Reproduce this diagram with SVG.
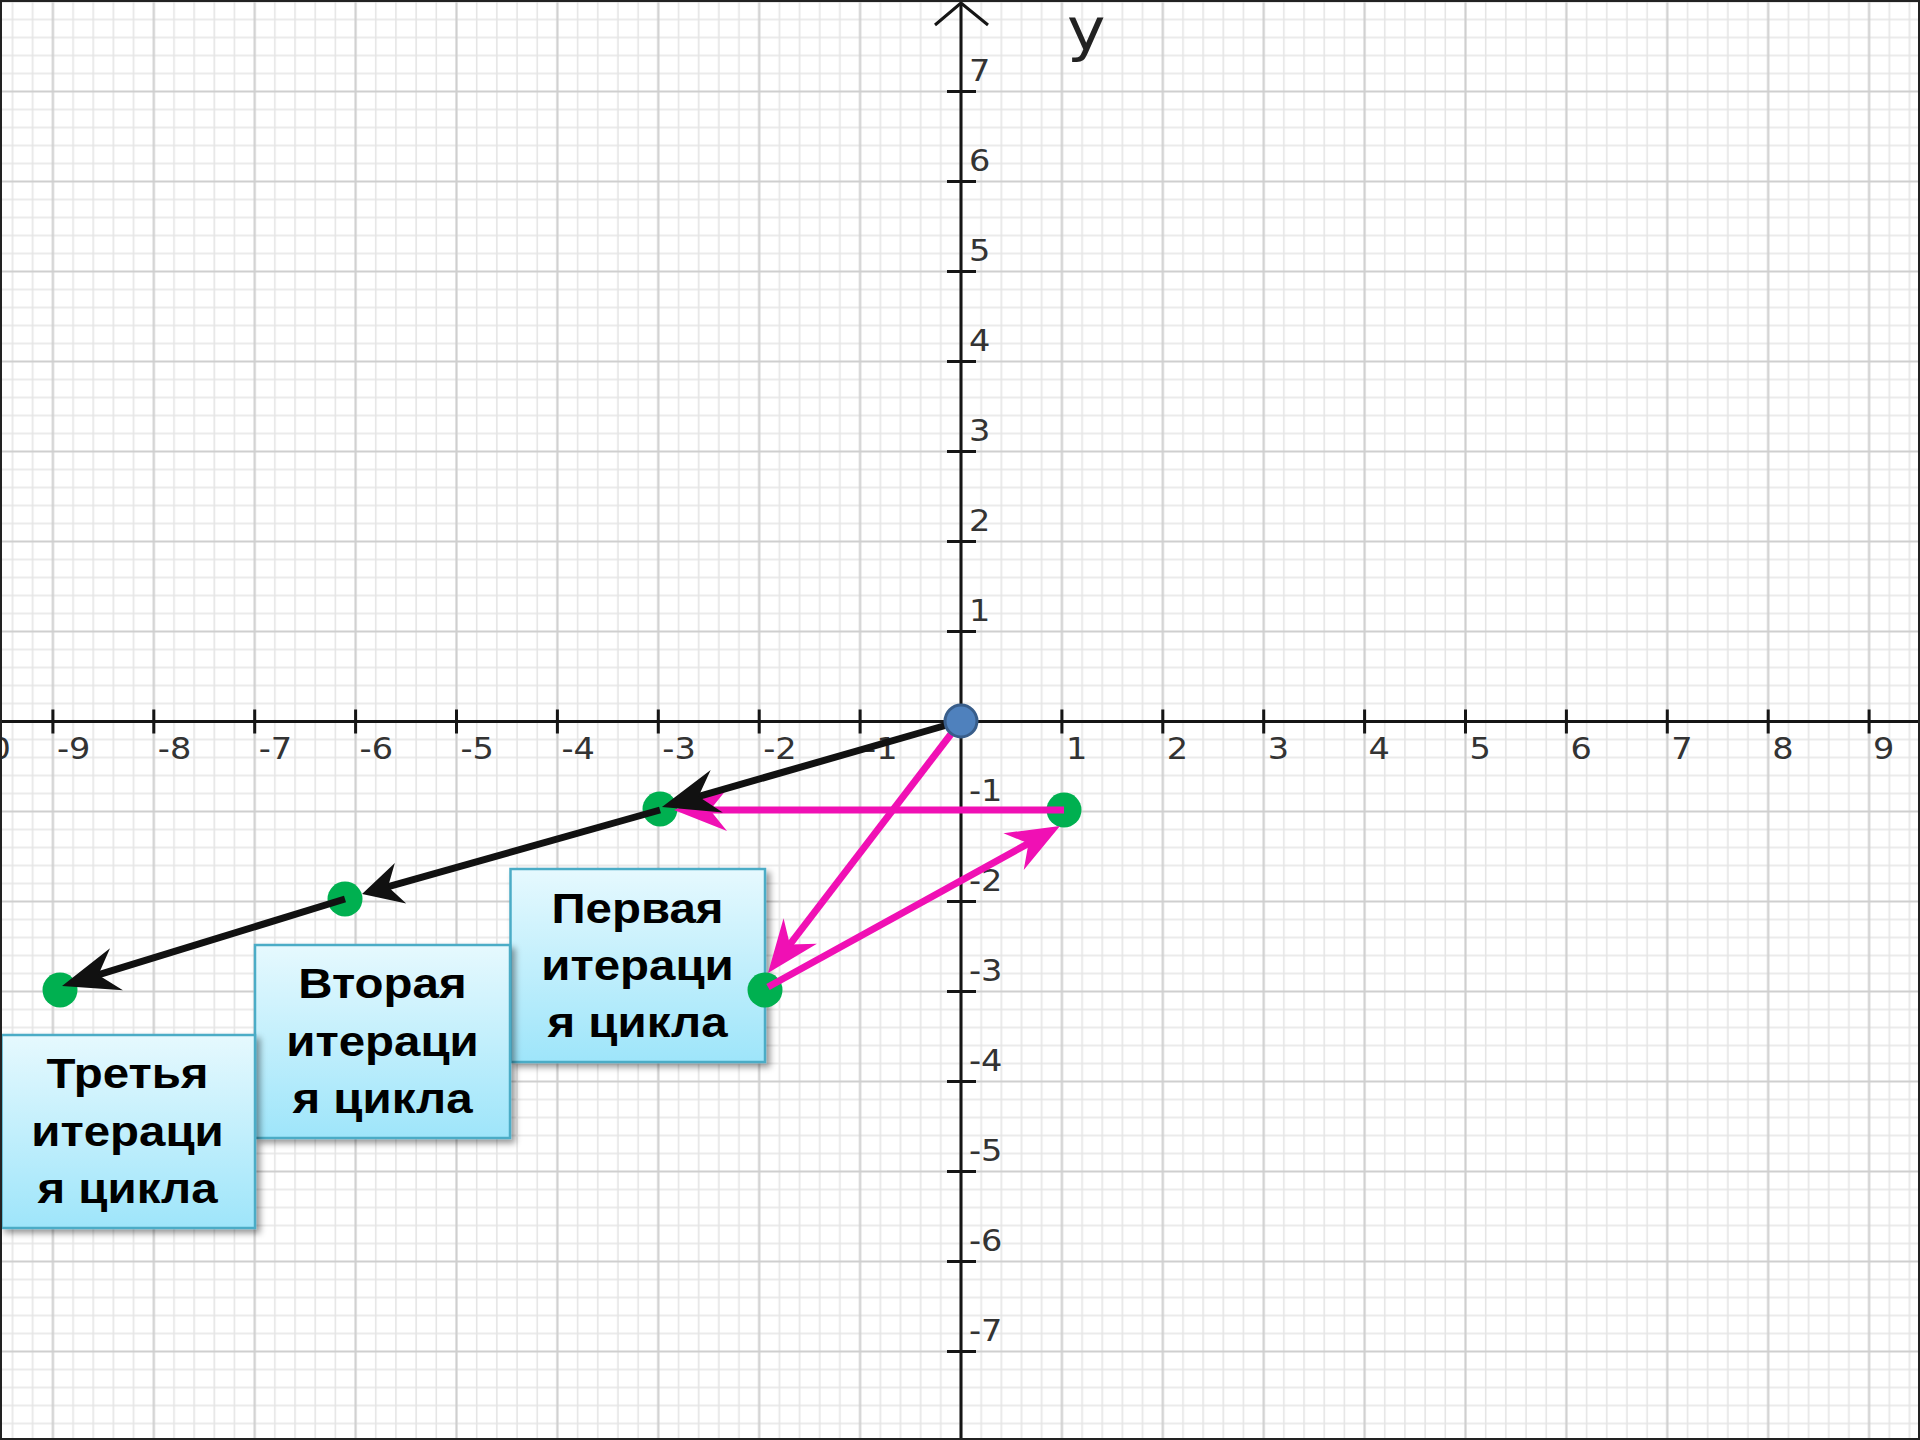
<svg xmlns="http://www.w3.org/2000/svg" width="1920" height="1440" viewBox="0 0 1920 1440">
<style>
.minor{stroke:#e5e5e5;stroke-width:1.6;fill:none}
.major{stroke:#cfcfcf;stroke-width:2.2;fill:none}
.axis{stroke:#151515;stroke-width:3;fill:none}
.tick{font-family:"DejaVu Sans",sans-serif;font-size:30px;fill:#333}
.box{fill:url(#boxgrad);stroke:#4bacc6;stroke-width:2.5;filter:url(#shadow)}
.btxt{font-family:"Liberation Sans",Arial,sans-serif;font-weight:bold;font-size:42px;fill:#000;text-anchor:middle}
.pt{fill:#00b050}
.blk{stroke:#111;stroke-width:7;fill:none}
.mag{stroke:#f010b4;stroke-width:7;fill:none}
</style>
<defs>
<pattern id="grid" patternUnits="userSpaceOnUse" x="910.55" y="676.5" width="100.9" height="90">
<path class="minor" d="M10.09 0V90M30.27 0V90M70.63 0V90M90.81 0V90M0 9H100.9M0 27H100.9M0 63H100.9M0 81H100.9"/>
<path class="major" d="M50.45 0V90M0 45H100.9"/>
</pattern>
<linearGradient id="boxgrad" x1="0" y1="0" x2="0" y2="1">
<stop offset="0" stop-color="#e6f9fe"/>
<stop offset="1" stop-color="#9ee5fa"/>
</linearGradient>
<filter id="shadow" x="-10%" y="-10%" width="125%" height="125%">
<feDropShadow dx="4" dy="4" stdDeviation="3" flood-color="#000" flood-opacity="0.4"/>
</filter>
<marker id="ah-black" markerUnits="userSpaceOnUse" orient="auto" overflow="visible" refX="0" refY="0" markerWidth="1" markerHeight="1">
<path d="M25,0 L-32,-22 L-13,0 L-32,22 Z" fill="#111"/>
</marker>
<marker id="ah-black-s" markerUnits="userSpaceOnUse" orient="auto" overflow="visible" refX="0" refY="0" markerWidth="1" markerHeight="1">
<path d="M20,0 L-20,-21 L-7,0 L-20,21 Z" fill="#111"/>
</marker>
<marker id="ah-mag" markerUnits="userSpaceOnUse" orient="auto" overflow="visible" refX="0" refY="0" markerWidth="1" markerHeight="1">
<path d="M25,0 L-28,-21 L-11,0 L-28,21 Z" fill="#f010b4"/>
</marker>
</defs>

<rect x="0" y="0" width="1920" height="1440" fill="#fff"/>
<rect x="0" y="0" width="1920" height="1440" fill="url(#grid)"/>

<g id="axes">
<path class="axis" d="M0 721.5H1920"/>
<path class="axis" d="M961 3V1440"/>
<path class="axis" stroke-width="2.5" d="M935 25L961 3L988 25"/>
<path class="axis" d="M52.9 709.5V733.5M153.8 709.5V733.5M254.7 709.5V733.5M355.6 709.5V733.5M456.5 709.5V733.5M557.4 709.5V733.5M658.3 709.5V733.5M759.2 709.5V733.5M860.1 709.5V733.5M1061.9 709.5V733.5M1162.8 709.5V733.5M1263.7 709.5V733.5M1364.6 709.5V733.5M1465.5 709.5V733.5M1566.4 709.5V733.5M1667.3 709.5V733.5M1768.2 709.5V733.5M1869.1 709.5V733.5"/>
<path class="axis" d="M947 91.5H976M947 181.5H976M947 271.5H976M947 361.5H976M947 451.5H976M947 541.5H976M947 631.5H976M947 811.5H976M947 901.5H976M947 991.5H976M947 1081.5H976M947 1171.5H976M947 1261.5H976M947 1351.5H976"/>
<text class="tick" transform="translate(1067,50) scale(1.12,1)" style="font-size:58px;fill:#222">y</text>
</g>

<g id="x-labels">
<text class="tick" transform="translate(-44,759) scale(1.12,1)">-10</text>
<text class="tick" transform="translate(56.9,759) scale(1.12,1)">-9</text>
<text class="tick" transform="translate(157.8,759) scale(1.12,1)">-8</text>
<text class="tick" transform="translate(258.7,759) scale(1.12,1)">-7</text>
<text class="tick" transform="translate(359.6,759) scale(1.12,1)">-6</text>
<text class="tick" transform="translate(460.5,759) scale(1.12,1)">-5</text>
<text class="tick" transform="translate(561.4,759) scale(1.12,1)">-4</text>
<text class="tick" transform="translate(662.3,759) scale(1.12,1)">-3</text>
<text class="tick" transform="translate(763.2,759) scale(1.12,1)">-2</text>
<text class="tick" transform="translate(864.1,759) scale(1.12,1)">-1</text>
<text class="tick" transform="translate(1065.9,759) scale(1.12,1)">1</text>
<text class="tick" transform="translate(1166.8,759) scale(1.12,1)">2</text>
<text class="tick" transform="translate(1267.7,759) scale(1.12,1)">3</text>
<text class="tick" transform="translate(1368.6,759) scale(1.12,1)">4</text>
<text class="tick" transform="translate(1469.5,759) scale(1.12,1)">5</text>
<text class="tick" transform="translate(1570.4,759) scale(1.12,1)">6</text>
<text class="tick" transform="translate(1671.3,759) scale(1.12,1)">7</text>
<text class="tick" transform="translate(1772.2,759) scale(1.12,1)">8</text>
<text class="tick" transform="translate(1873.1,759) scale(1.12,1)">9</text>
</g>

<g id="y-labels">
<text class="tick" transform="translate(969,80.5) scale(1.12,1)">7</text>
<text class="tick" transform="translate(969,170.5) scale(1.12,1)">6</text>
<text class="tick" transform="translate(969,260.5) scale(1.12,1)">5</text>
<text class="tick" transform="translate(969,350.5) scale(1.12,1)">4</text>
<text class="tick" transform="translate(969,440.5) scale(1.12,1)">3</text>
<text class="tick" transform="translate(969,530.5) scale(1.12,1)">2</text>
<text class="tick" transform="translate(969,620.5) scale(1.12,1)">1</text>
<text class="tick" transform="translate(969,800.5) scale(1.12,1)">-1</text>
<text class="tick" transform="translate(969,890.5) scale(1.12,1)">-2</text>
<text class="tick" transform="translate(969,980.5) scale(1.12,1)">-3</text>
<text class="tick" transform="translate(969,1070.5) scale(1.12,1)">-4</text>
<text class="tick" transform="translate(969,1160.5) scale(1.12,1)">-5</text>
<text class="tick" transform="translate(969,1250.5) scale(1.12,1)">-6</text>
<text class="tick" transform="translate(969,1340.5) scale(1.12,1)">-7</text>
</g>

<g id="box-first">
<rect class="box" x="510.5" y="869" width="254.5" height="193"/>
<text class="btxt" transform="translate(637.5,923) scale(1.13,1)">Первая</text>
<text class="btxt" transform="translate(637.5,980) scale(1.13,1)">итераци</text>
<text class="btxt" transform="translate(637.5,1037) scale(1.13,1)">я цикла</text>
</g>
<g id="box-second">
<rect class="box" x="255" y="945" width="255" height="193"/>
<text class="btxt" transform="translate(382.5,998) scale(1.13,1)">Вторая</text>
<text class="btxt" transform="translate(382.5,1056) scale(1.13,1)">итераци</text>
<text class="btxt" transform="translate(382.5,1113) scale(1.13,1)">я цикла</text>
</g>
<g id="box-third">
<rect class="box" x="1.5" y="1035" width="253.5" height="193"/>
<text class="btxt" transform="translate(127.5,1088) scale(1.13,1)">Третья</text>
<text class="btxt" transform="translate(127.5,1146) scale(1.13,1)">итераци</text>
<text class="btxt" transform="translate(127.5,1203) scale(1.13,1)">я цикла</text>
</g>

<g id="point-a"><circle class="pt" cx="1064" cy="810" r="17.5"/></g>
<g id="point-b"><circle class="pt" cx="660" cy="809" r="17.5"/></g>
<g id="point-c"><circle class="pt" cx="765" cy="990" r="17.5"/></g>
<g id="point-d"><circle class="pt" cx="345" cy="899" r="17.5"/></g>
<g id="point-e"><circle class="pt" cx="60" cy="990" r="17.5"/></g>

<g id="connectors">
<path class="mag" d="M961 721L783.2 953.2" marker-end="url(#ah-mag)"/>
<path class="mag" d="M768 987L1038.1 838.1" marker-end="url(#ah-mag)"/>
<path class="mag" d="M1064 810L699 810" marker-end="url(#ah-mag)"/>
<path class="blk" d="M961 721L686 800.1" marker-end="url(#ah-black)"/>
<path class="blk" d="M660 810L381.3 888.6" marker-end="url(#ah-black-s)"/>
<path class="blk" d="M345 899L85.9 978.7" marker-end="url(#ah-black)"/>
</g>

<g id="origin"><circle cx="961" cy="721" r="16" fill="#4f81bd" stroke="#385d8a" stroke-width="3"/></g>

<rect x="1" y="1" width="1918" height="1438" fill="none" stroke="#222" stroke-width="2"/>
</svg>
